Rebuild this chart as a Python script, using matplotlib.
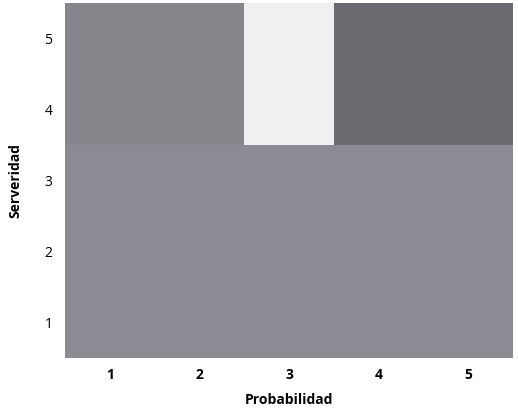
import matplotlib
matplotlib.use("Agg")
import matplotlib.pyplot as plt
from matplotlib.colors import ListedColormap, BoundaryNorm
import numpy as np

probabilidad = [1, 2, 3, 4, 5]
severidad = [1, 2, 3, 4, 5]
# level per cell, rows = severidad 1..5, cols = probabilidad 1..5
niveles = [
    [1, 1, 1, 1, 1],
    [1, 1, 1, 1, 1],
    [1, 1, 1, 1, 1],
    [2, 2, 0, 3, 3],
    [2, 2, 0, 3, 3],
]
colores = ["#f0f0f2", "#8b8b93", "#86868c", "#6a6a70"]

plt.rcParams['font.family'] = ['Open Sans', 'DejaVu Sans']
fig = plt.figure(figsize=(5.18, 4.09), dpi=100)
ax = fig.add_axes([0.1255, 0.125, 0.865, 0.868])
cmap = ListedColormap(colores)
norm = BoundaryNorm(np.arange(-0.5, len(colores) + 0.5, 1), cmap.N)
x_edges = np.arange(len(probabilidad) + 1) + 0.5
y_edges = np.arange(len(severidad) + 1) + 0.5
ax.pcolormesh(x_edges, y_edges, np.array(niveles), cmap=cmap, norm=norm)
ax.set_xlim(0.5, 5.5)
ax.set_ylim(0.5, 5.5)
ax.set_xticks(probabilidad)
ax.set_yticks(severidad)
ax.set_xticklabels([str(v) for v in probabilidad], fontweight='bold', fontsize=10)
ax.set_yticklabels([str(v) for v in severidad], fontsize=10)
ax.tick_params(axis='x', length=0, pad=7)
ax.tick_params(axis='y', length=0, pad=9)
for s in ax.spines.values():
    s.set_visible(False)
ax.set_xlabel("Probabilidad", fontweight='bold', fontsize=10, labelpad=8)
ax.set_ylabel("Serveridad", fontweight='bold', fontsize=10, labelpad=16)
fig.savefig("out.png", dpi=100)
